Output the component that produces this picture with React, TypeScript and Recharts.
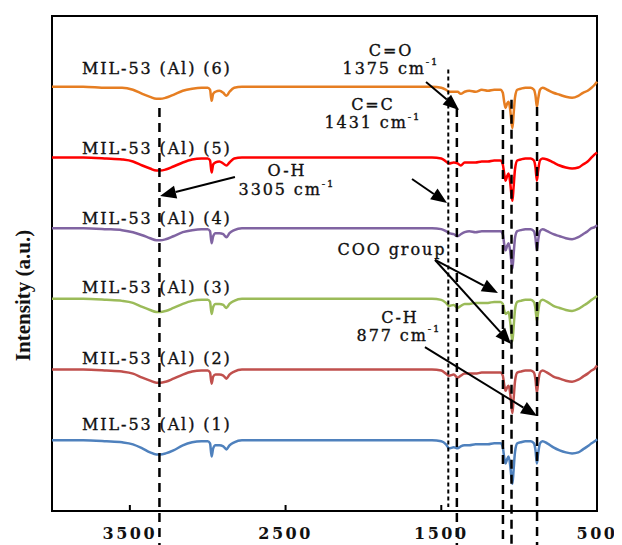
import React from 'react'
import { LineChart, Line, XAxis, YAxis, ReferenceLine, ReferenceDot, ReferenceArea, Label } from 'recharts'

// wavenumber grid (cm-1)
const wavenumbers = [
  4000, 3800, 3650, 3550, 3480, 3420, 3370, 3330, 3305, 3270,
  3220, 3160, 3100, 3040, 3000, 2985, 2975, 2965, 2950, 2925,
  2900, 2880, 2860, 2830, 2780, 2700, 2400, 2000, 1700, 1560,
  1500, 1470, 1450, 1420, 1395, 1375, 1350, 1320, 1280, 1240,
  1200, 1160, 1130, 1120, 1105, 1095, 1087, 1078, 1068, 1058,
  1050, 1043, 1036, 1026, 1012, 990, 960, 925, 905, 895,
  886, 878, 866, 850, 820, 780, 740, 700, 660, 620,
  590, 560, 535, 515, 500,
]

// vertical offset of each trace (a.u.)
const offsets = [70, 140, 210, 280, 350, 420]

// absorption dips below each trace's baseline (a.u.)
const dip1 = [
  0, 0, 1, 2, 4, 8, 12, 14, 14, 13,
  10, 5, 2, 1, 1, 3, 16, 8, 5, 5,
  6, 9, 5, 2, 0, 0, 0, 0, 0, 0,
  1, 4, 8, 7, 8, 6, 5, 5, 4, 4,
  4, 3, 3, 3, 7, 18, 23, 19, 16, 24,
  36, 43, 30, 11, 3, 2, 1, 1, 3, 10,
  23, 13, 3, 1, 3, 7, 10, 12, 13, 12,
  9, 6, 3, 1, -1,
]
const dip2 = [
  0, 0, 1, 2, 4, 8, 11, 13, 13, 12,
  9, 5, 2, 1, 1, 3, 14, 7, 5, 5,
  6, 9, 5, 2, 0, 0, 0, 0, 0, 0,
  1, 4, 6, 5, 8, 6, 4, 4, 4, 3,
  3, 3, 3, 3, 6, 16, 21, 18, 16, 23,
  35, 43, 30, 11, 3, 2, 1, 1, 3, 10,
  23, 13, 3, 1, 3, 7, 9, 11, 12, 10,
  7, 4, 1, -1, -4,
]
const dip3 = [
  0, 0, 1, 2, 4, 8, 11, 13, 13, 12,
  9, 5, 2, 1, 1, 3, 15, 8, 5, 5,
  6, 9, 5, 2, 0, 0, 0, 0, 0, 0,
  1, 4, 7, 6, 9, 7, 5, 5, 4, 4,
  4, 3, 3, 3, 5, 12, 15, 14, 13, 22,
  34, 42, 29, 10, 3, 2, 1, 1, 3, 10,
  22, 13, 3, 1, 3, 7, 9, 11, 12, 10,
  7, 4, 1, -1, -3,
]
const dip4 = [
  0, 0, 1, 2, 4, 7, 10, 12, 12, 11,
  8, 4, 2, 1, 1, 3, 15, 8, 5, 5,
  6, 9, 5, 2, 0, 0, 0, 0, 0, 0,
  1, 3, 5, 6, 8, 6, 4, 3, 4, 3,
  3, 3, 3, 3, 6, 17, 22, 18, 15, 22,
  33, 40, 27, 9, 3, 2, 1, 1, 3, 10,
  22, 12, 3, 1, 3, 6, 8, 10, 11, 9,
  6, 3, 0, -1, -3,
]
const dip5 = [
  0, 0, 1, 2, 4, 8, 11, 13, 13, 12,
  9, 5, 2, 1, 1, 3, 15, 7, 5, 4,
  6, 8, 5, 1, 0, 0, 0, 0, 0, 0,
  1, 4, 6, 5, 6, 8, 5, 5, 5, 4,
  4, 3, 3, 3, 7, 17, 23, 19, 16, 24,
  36, 43, 30, 11, 3, 2, 1, 1, 3, 10,
  23, 13, 3, 1, 2, 5, 8, 10, 11, 10,
  7, 4, 0, -3, -5,
]
const dip6 = [
  0, 0, 1, 1, 3, 7, 10, 12, 12, 11,
  8, 4, 2, 1, 1, 3, 14, 7, 5, 4,
  6, 9, 5, 1, 0, 0, 0, 0, 0, 0,
  1, 3, 5, 5, 5, 7, 5, 4, 5, 3,
  4, 3, 3, 3, 6, 16, 21, 17, 15, 22,
  34, 41, 28, 10, 3, 2, 1, 1, 3, 9,
  20, 12, 3, 1, 3, 6, 8, 10, 11, 9,
  6, 4, 1, -2, -5,
]
const dips = [dip1, dip2, dip3, dip4, dip5, dip6]

const seriesNames = ['MIL-53 (Al) (1)', 'MIL-53 (Al) (2)', 'MIL-53 (Al) (3)', 'MIL-53 (Al) (4)', 'MIL-53 (Al) (5)', 'MIL-53 (Al) (6)']
const seriesColors = ['#4F81BD', '#C0504D', '#9BBB59', '#8064A2', '#FF0000', '#E67E22']
const xTicks = [3500, 2500, 1500, 500]

const data = wavenumbers.map((wn, i) => {
  const row: any = { wn }
  dips.forEach((d, k) => { row['s' + (k + 1)] = offsets[k] - d[i] })
  return row
})

// annotations, in data units
const nameLabelY = [86, 150.5, 221.7, 289.1, 359.3, 438.5]
const peakLines = [
  { wn: 3310, top: 399, bottom: -36, dotted: false },
  { wn: 1455, top: 437, bottom: 4, dotted: true },
  { wn: 1400, top: 399, bottom: -36, dotted: false },
  { wn: 1104, top: 397, bottom: -36, dotted: false },
  { wn: 1049, top: 407, bottom: -36, dotted: false },
  { wn: 885, top: 400, bottom: -36, dotted: false },
]
const arrows = [
  { x1: 1598, y1: 424.7, x2: 1386, y2: 397 },
  { x1: 2825, y1: 330.6, x2: 3306, y2: 311.8 },
  { x1: 1688, y1: 328.6, x2: 1463, y2: 304.9 },
  { x1: 1540, y1: 248.5, x2: 1136, y2: 215.8 },
  { x1: 1540, y1: 248.5, x2: 1052, y2: 165.3 },
  { x1: 1605, y1: 162.3, x2: 885, y2: 94 },
]
const notes = [
  { wn: 1823, y: 456.3, text: 'C=O', sup: '' },
  { wn: 1823, y: 438.5, text: '1375 cm', sup: '-1' },
  { wn: 1939, y: 401.9, text: 'C=C', sup: '' },
  { wn: 1939, y: 384.1, text: '1431 cm', sup: '-1' },
  { wn: 2491, y: 336.6, text: 'O-H', sup: '' },
  { wn: 2491, y: 317.8, text: '3305 cm', sup: '-1' },
  { wn: 1817, y: 258.4, text: 'COO group', sup: '' },
  { wn: 1765, y: 192, text: 'C-H', sup: '' },
  { wn: 1772, y: 174.2, text: '877 cm', sup: '-1' },
]

const serif = 'DejaVu Serif, serif'

const ArrowShape = (props: any) => {
  const { x1, y1, x2, y2 } = props
  const a = Math.atan2(y2 - y1, x2 - x1)
  const len = 16
  const hw = 6.5
  const bx = x2 - len * Math.cos(a)
  const by = y2 - len * Math.sin(a)
  const px = -Math.sin(a) * hw
  const py = Math.cos(a) * hw
  return (
    <g>
      <line x1={x1} y1={y1} x2={bx} y2={by} stroke="#000" strokeWidth={2} />
      <polygon points={`${x2},${y2} ${bx + px},${by + py} ${bx - px},${by - py}`} fill="#000" />
    </g>
  )
}

const noteShape = (text: string, sup: string, anchor: string) => (p: any) => (
  <text x={p.cx} y={p.cy} textAnchor={anchor} dominantBaseline="central" fontFamily={serif}
    fontSize={16} letterSpacing={1.9} fill="#111" stroke="#111" strokeWidth={0.35}>
    {text}
    {sup ? <tspan dy={-7} fontSize={10}>{sup}</tspan> : null}
  </text>
)

const XTick = (props: any) => {
  const { x, y, payload } = props
  return (
    <g>
      <line x1={x} y1={y} x2={x} y2={y - 6} stroke="#000" strokeWidth={2} />
      <text x={x} y={y + 28} textAnchor="middle" fontFamily={serif} fontWeight="bold" fontSize={16}
        letterSpacing={2.5} fill="#111">{payload.value}</text>
    </g>
  )
}

export default function App() {
  return (
    <div style={{ width: 614, height: 537 }}>
      <LineChart width={614} height={537} data={data} margin={{ top: 8, right: 25, bottom: 0, left: 0 }}>
        <XAxis type="number" dataKey="wn" domain={[500, 4000]} reversed ticks={xTicks} height={34}
          tickSize={0} tickMargin={0} tickLine={false} tick={<XTick />}
          axisLine={{ stroke: '#000', strokeWidth: 2 }} />
        <YAxis type="number" domain={[0, 490]} width={44} tick={false} tickLine={false} axisLine={false}>
          <Label content={(p: any) => {
            const vb = p.viewBox
            const cx = vb.x + 15
            const cy = vb.y + vb.height / 2 + 32
            return (
              <text transform={`translate(${cx},${cy}) rotate(-90)`} textAnchor="middle" dominantBaseline="central"
                fontFamily="Liberation Serif, serif" fontWeight="bold" fontSize={21} fill="#111">
                Intensity (a.u.)
              </text>
            )
          }} />
        </YAxis>
        <ReferenceArea x1={500} x2={4000} y1={0} y2={490} fill="none" fillOpacity={0} stroke="#000" strokeWidth={2} ifOverflow="visible" />
        {seriesNames.map((n, k) => (
          <Line key={n} type="monotone" dataKey={'s' + (k + 1)} name={n} stroke={seriesColors[k]}
            strokeWidth={2.5} dot={false} isAnimationActive={false} />
        ))}
        {peakLines.map((l, i) => (
          <ReferenceLine key={'pl' + i} ifOverflow="visible"
            segment={[{ x: l.wn, y: l.top }, { x: l.wn, y: l.bottom }]}
            stroke="#000" strokeWidth={l.dotted ? 2 : 2.5} strokeDasharray={l.dotted ? '4 3' : '9 6'} />
        ))}
        {arrows.map((a, i) => (
          <ReferenceLine key={'ar' + i} ifOverflow="visible"
            segment={[{ x: a.x1, y: a.y1 }, { x: a.x2, y: a.y2 }]} shape={ArrowShape} />
        ))}
        {seriesNames.map((n, k) => (
          <ReferenceDot key={'lb' + k} x={3807} y={nameLabelY[k]} r={0} ifOverflow="visible"
            shape={noteShape(n, '', 'start')} />
        ))}
        {notes.map((t, i) => (
          <ReferenceDot key={'nt' + i} x={t.wn} y={t.y} r={0} ifOverflow="visible"
            shape={noteShape(t.text, t.sup, 'middle')} />
        ))}
      </LineChart>
    </div>
  )
}
